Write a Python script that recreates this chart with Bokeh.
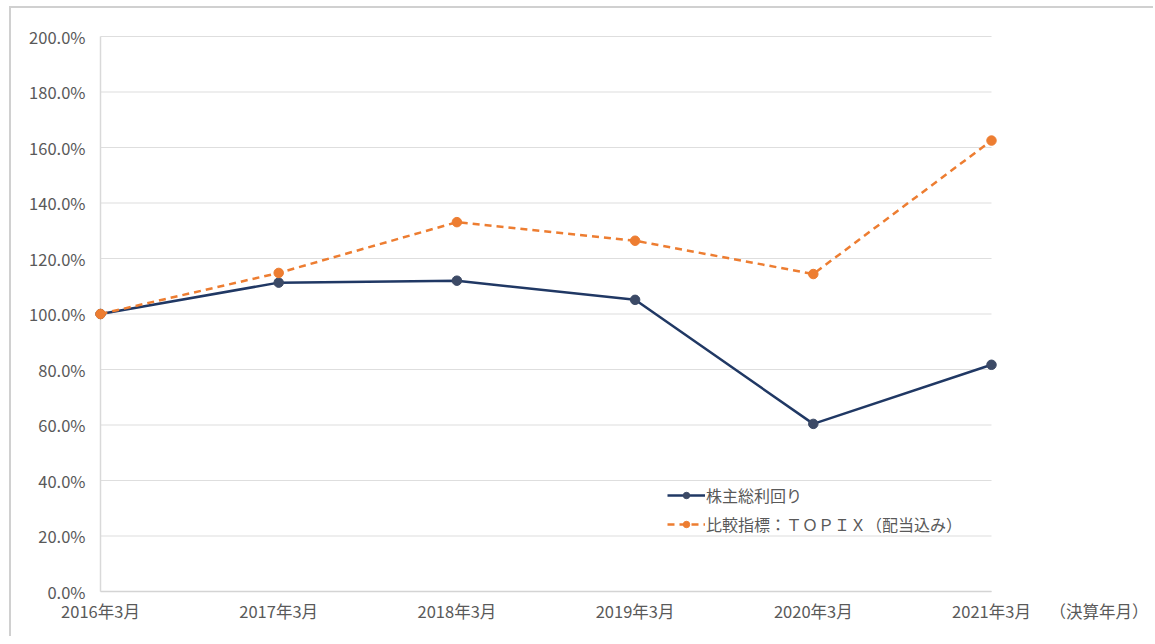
from bokeh.plotting import figure
from bokeh.models import Range1d, Legend, LegendItem
from bokeh.core.properties import value
from bokeh.embed import file_html
from bokeh.resources import INLINE

categories = ["2016年3月", "2017年3月", "2018年3月", "2019年3月", "2020年3月", "2021年3月"]
tsr = [100.0, 111.3, 112.0, 105.1, 60.4, 81.7]
topix = [100.0, 114.8, 133.1, 126.4, 114.4, 162.5]
series_names = ["株主総利回り", "比較指標：ＴＯＰＩＸ（配当込み）"]
y_ticks = [0, 20, 40, 60, 80, 100, 120, 140, 160, 180, 200]
y_tick_labels = [f"{v:.1f}%" for v in y_ticks]
x_unit_label = "（決算年月）"

FONT = "Noto Sans CJK JP"
GRAY = "#595959"
NAVY = "#203864"
ORANGE = "#ed7d31"
FS = "16.5px"

xs = list(range(len(categories)))
x_last = len(categories) - 1

# Layout geometry in pixels; the plotting frame covers the whole canvas so that
# every label (drawn as text) stays inside it.
W, H = 1144, 630
CW, CH = W, H
DATA_LEFT, DATA_TOP = 89.0, 28.0      # canvas px to first category / to 200%
DATA_W, DATA_H = 891.0, 555.0         # px span of the categories / of 0..200%
px_per_x = DATA_W / x_last
px_per_y = DATA_H / (y_ticks[-1] - y_ticks[0])
x_start = -DATA_LEFT / px_per_x
x_end = x_start + CW / px_per_x
y_end = y_ticks[-1] + DATA_TOP / px_per_y
y_start = y_end - CH / px_per_y

p = figure(width=W, height=H, output_backend="svg", toolbar_location=None,
           x_range=Range1d(x_start, x_end), y_range=Range1d(y_start, y_end),
           min_border_left=0, min_border_right=0, min_border_top=0, min_border_bottom=0)
p.styles = {"border-left": "2px solid #d0d0d0", "border-top": "2px solid #d0d0d0",
            "margin-left": "9px", "margin-top": "6px"}
p.outline_line_color = None
p.background_fill_color = "white"
p.xaxis.visible = False
p.yaxis.visible = False
p.xgrid.visible = False
p.ygrid.visible = False

# gridlines and axis lines
p.segment(x0=[xs[0]] * len(y_ticks), x1=[x_last] * len(y_ticks), y0=y_ticks, y1=y_ticks,
          line_color="#dedede", line_width=1.2)
p.segment(x0=[xs[0]], x1=[x_last], y0=[y_ticks[0]], y1=[y_ticks[0]],
          line_color="#d4d4d4", line_width=1.5)
p.segment(x0=[xs[0]], x1=[xs[0]], y0=[y_ticks[0]], y1=[y_ticks[-1]],
          line_color="#d9d9d9", line_width=1.5)

# tick labels
p.text(x=[xs[0]] * len(y_ticks), y=y_ticks, text=y_tick_labels, x_offset=-15,
       text_font=value(FONT), text_font_size=value(FS), text_color=GRAY,
       text_align="right", text_baseline="middle")
p.text(x=xs, y=[y_ticks[0]] * len(xs), text=categories, y_offset=19,
       text_font=value(FONT), text_font_size=value(FS), text_color=GRAY,
       text_align="center", text_baseline="middle")
p.text(x=[x_last], y=[y_ticks[0]], text=[x_unit_label], x_offset=58, y_offset=19,
       text_font=value(FONT), text_font_size=value(FS), text_color=GRAY,
       text_align="left", text_baseline="middle")

l1 = p.line(xs, tsr, line_color=NAVY, line_width=2.5)
s1 = p.scatter(xs, tsr, size=9.5, fill_color="#3c4a66", line_color="#3c4a66")
l2 = p.line(xs, topix, line_color=ORANGE, line_width=2.5, line_dash="7 5")
s2 = p.scatter(xs, topix, size=9.5, fill_color=ORANGE, line_color=ORANGE)

legend = Legend(items=[LegendItem(label=series_names[0], renderers=[l1, s1]),
                       LegendItem(label=series_names[1], renderers=[l2, s2])],
                location=(656, 102), orientation="vertical",
                label_text_font=FONT, label_text_font_size="16px", label_text_color=GRAY,
                glyph_width=38, glyph_height=16, label_height=16, spacing=5, padding=4, margin=0,
                label_standoff=1, border_line_color=None, background_fill_alpha=0)
p.add_layout(legend, "center")

open("out.html", "w").write(file_html(p, INLINE))
